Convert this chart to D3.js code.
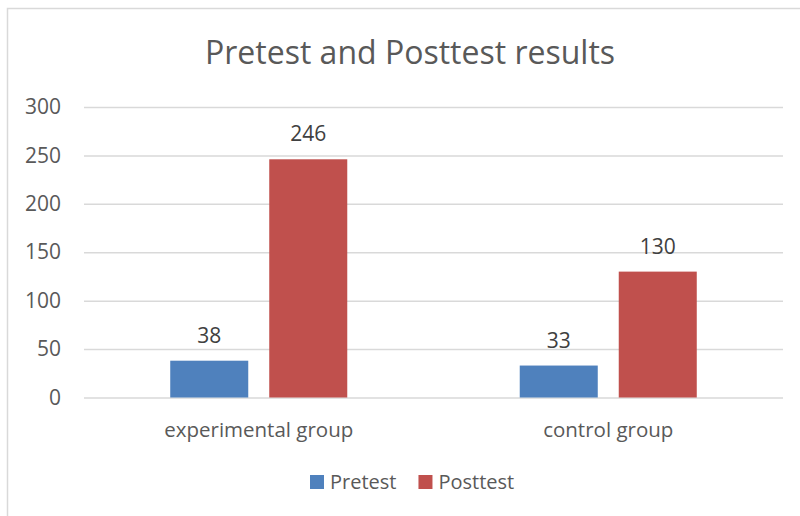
<!DOCTYPE html>
<html>
<head>
<meta charset="utf-8">
<script src="https://cdn.jsdelivr.net/npm/d3@7"></script>
<style>
  body { margin: 0; background: #fff; }
  svg { display: block; font-family: 'Open Sans', sans-serif; }
</style>
</head>
<body>
<div id="chart"></div>
<script>
// chart data
const categories = ['experimental group', 'control group'];
const seriesNames = ['Pretest', 'Posttest'];
const pretestValues = [38, 33];
const posttestValues = [246, 130];
const yTicks = [0, 50, 100, 150, 200, 250, 300];

const seriesColors = ['#4F81BD', '#C0504D'];

const width = 800;
const height = 516;
const margin = { top: 107, right: 17, bottom: 118.5, left: 84 };

const svg = d3.select('#chart')
    .append('svg')
    .attr('width', width)
    .attr('height', height);

svg.append('rect')
    .attr('width', width)
    .attr('height', height)
    .attr('fill', '#fff');

// chart frame (runs off the right and bottom edges)
svg.append('rect')
    .attr('x', 7.5)
    .attr('y', 8.5)
    .attr('width', 820)
    .attr('height', 540)
    .attr('fill', 'none')
    .attr('stroke', '#D9D9D9')
    .attr('stroke-width', 1.5);

svg.append('text')
    .attr('x', 410)
    .attr('y', 64)
    .attr('text-anchor', 'middle')
    .attr('fill', '#595959')
    .style('font-size', '32px')
    .text('Pretest and Posttest results');

const y = d3.scaleLinear()
    .domain([0, 300])
    .range([height - margin.bottom, margin.top]);

const x0 = d3.scaleBand()
    .domain(categories)
    .range([margin.left, width - margin.right])
    .padding(0);

const x1 = d3.scaleBand()
    .domain(seriesNames)
    .range([0, x0.bandwidth()])
    .paddingInner(0.212)
    .paddingOuter(0.871);

const yAxis = d3.axisLeft(y)
    .tickValues(yTicks)
    .tickSize(-(width - margin.left - margin.right))
    .tickPadding(23);

const yg = svg.append('g')
    .attr('transform', `translate(${margin.left}, 0)`)
    .call(yAxis);
yg.select('.domain').remove();
yg.selectAll('.tick line').attr('stroke', '#D9D9D9').attr('stroke-width', 1.5);
yg.selectAll('.tick text')
    .attr('fill', '#595959')
    .style('font-size', '21px')
    .style('font-family', "'Open Sans', sans-serif");

const rows = categories.map((c, i) => ({
    category: c,
    values: [
        { name: seriesNames[0], value: pretestValues[i], color: seriesColors[0] },
        { name: seriesNames[1], value: posttestValues[i], color: seriesColors[1] }
    ]
}));

const groups = svg.selectAll('.group')
    .data(rows)
    .enter()
    .append('g')
    .attr('class', 'group')
    .attr('transform', (d) => `translate(${x0(d.category)}, 0)`);

groups.selectAll('rect')
    .data((d) => d.values)
    .enter()
    .append('rect')
    .attr('x', (d) => x1(d.name))
    .attr('y', (d) => y(d.value))
    .attr('width', x1.bandwidth())
    .attr('height', (d) => y(0) - y(d.value))
    .attr('fill', (d) => d.color);

groups.selectAll('.value-label')
    .data((d) => d.values)
    .enter()
    .append('text')
    .attr('class', 'value-label')
    .attr('x', (d) => x1(d.name) + x1.bandwidth() / 2)
    .attr('y', (d) => y(d.value) - 18)
    .attr('text-anchor', 'middle')
    .attr('fill', '#404040')
    .style('font-size', '21px')
    .text((d) => d.value);

svg.selectAll('.cat-label')
    .data(categories)
    .enter()
    .append('text')
    .attr('class', 'cat-label')
    .attr('x', (d) => x0(d) + x0.bandwidth() / 2)
    .attr('y', 437)
    .attr('text-anchor', 'middle')
    .attr('fill', '#595959')
    .style('font-size', '20.5px')
    .text((d) => d);

// legend
const legend = svg.append('g').attr('transform', 'translate(310, 475)');
let lx = 0;
seriesNames.forEach((name, i) => {
    const item = legend.append('g').attr('transform', `translate(${lx}, 0)`);
    item.append('rect')
        .attr('width', 14)
        .attr('height', 14)
        .attr('fill', seriesColors[i]);
    const t = item.append('text')
        .attr('x', 20)
        .attr('y', 14)
        .attr('fill', '#595959')
        .style('font-size', '20px')
        .text(name);
    lx += 20 + t.node().getComputedTextLength() + 22;
});
</script>
</body>
</html>
